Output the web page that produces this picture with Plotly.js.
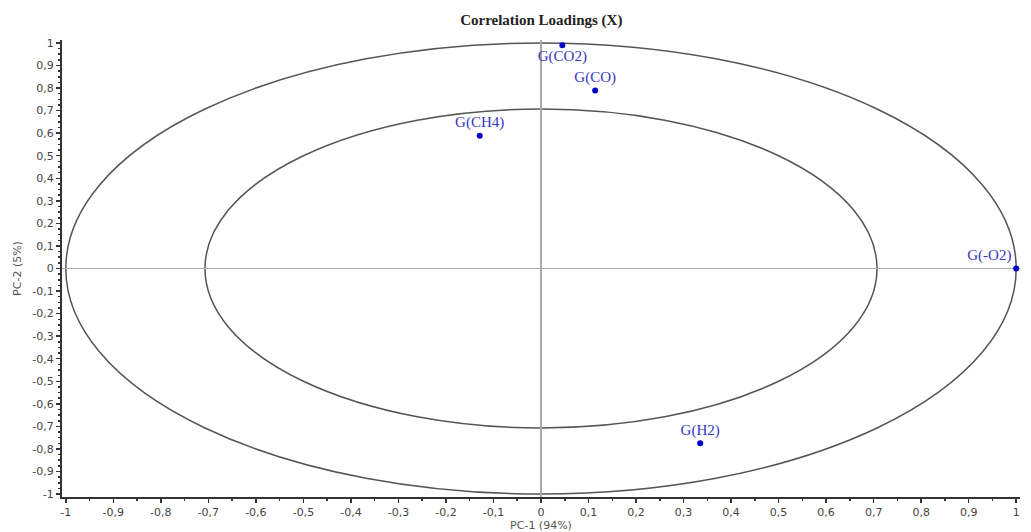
<!DOCTYPE html>
<html>
<head>
<meta charset="utf-8">
<script src="https://cdn.plot.ly/plotly-3.0.1.min.js"></script>
<style>html,body{margin:0;padding:0;background:#fff;}#chart{width:1031px;height:532px;}</style>
</head>
<body>
<div id="chart"></div>
<script>
const variables = ["G(CO2)", "G(CO)", "G(CH4)", "G(H2)", "G(-O2)"];
const pc1 = [0.045, 0.114, -0.129, 0.335, 1.0];
const pc2 = [0.99, 0.789, 0.588, -0.775, 0.0];
const labelPositions = ["bottom center", "top center", "top center", "top center", "top left"];
const tickValues = [-1, -0.9, -0.8, -0.7, -0.6, -0.5, -0.4, -0.3, -0.2, -0.1, 0, 0.1, 0.2, 0.3, 0.4, 0.5, 0.6, 0.7, 0.8, 0.9, 1];
const tickLabels = ["-1", "-0,9", "-0,8", "-0,7", "-0,6", "-0,5", "-0,4", "-0,3", "-0,2", "-0,1", "0", "0,1", "0,2", "0,3", "0,4", "0,5", "0,6", "0,7", "0,8", "0,9", "1"];
const outerRadius = 1;
const innerRadius = Math.sqrt(0.5);

const trace = {
  x: pc1, y: pc2, text: variables,
  type: "scatter", mode: "markers+text",
  textposition: labelPositions,
  cliponaxis: false,
  marker: {color: "#0000cc", size: 6},
  textfont: {family: "Liberation Serif, Times New Roman, serif", size: 15, color: "#3636c4"},
  hoverinfo: "x+y+text"
};

const axisCommon = {
  tickvals: tickValues, ticktext: tickLabels,
  ticks: "outside", ticklen: 4, tickwidth: 1.5, tickcolor: "#333",
  showline: true, linecolor: "#333", linewidth: 2,
  showgrid: false,
  zeroline: true, zerolinecolor: "#aaa", zerolinewidth: 1.5,
  tickfont: {family: "DejaVu Sans, sans-serif", size: 11, color: "#444"},
  fixedrange: true
};

const layout = {
  width: 1031, height: 532,
  margin: {l: 62, r: 11, t: 40, b: 35},
  paper_bgcolor: "#fff", plot_bgcolor: "#fff",
  showlegend: false,
  title: {text: "<b>Correlation Loadings (X)</b>", x: 0.525, xanchor: "center", y: 0.962, yanchor: "middle",
          font: {family: "Liberation Serif, Times New Roman, serif", size: 15, color: "#222"}},
  xaxis: Object.assign({}, axisCommon, {
    range: [-1.008, 1.008],
    minor: {ticks: "outside", ticklen: 2, tickcolor: "#333", dtick: 0.05, tick0: 0},
    title: {text: "PC-1 (94%)", standoff: 2, font: {family: "DejaVu Sans, sans-serif", size: 11, color: "#555"}}
  }),
  yaxis: Object.assign({}, axisCommon, {
    range: [-1.013, 1.013],
    minor: {ticks: "outside", ticklen: 2, tickcolor: "#333", dtick: 0.025, tick0: 0},
    title: {text: "PC-2 (5%)", standoff: 8, font: {family: "DejaVu Sans, sans-serif", size: 11, color: "#555"}}
  }),
  shapes: [
    {type: "circle", xref: "x", yref: "y", x0: -outerRadius, x1: outerRadius, y0: -outerRadius, y1: outerRadius,
     line: {color: "#555", width: 1.5}, layer: "below"},
    {type: "circle", xref: "x", yref: "y", x0: -innerRadius, x1: innerRadius, y0: -innerRadius, y1: innerRadius,
     line: {color: "#555", width: 1.5}, layer: "below"}
  ]
};

Plotly.newPlot("chart", [trace], layout, {displayModeBar: false, staticPlot: true});
</script>
</body>
</html>
